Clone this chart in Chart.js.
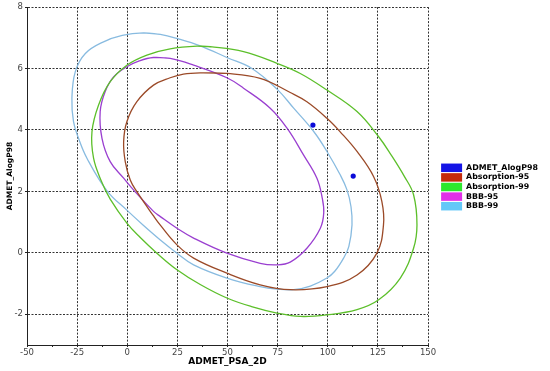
<!DOCTYPE html>
<html><head><meta charset="utf-8">
<script src="https://cdn.jsdelivr.net/npm/chart.js@4/dist/chart.umd.min.js"></script>
<style>html,body{margin:0;padding:0;background:#fff}#wrap{width:550px;height:371px}</style>
</head><body><div id="wrap"><canvas id="c" width="550" height="371"></canvas></div>
<script>
const seriesNames = ['ADMET_AlogP98', 'Absorption-95', 'Absorption-99', 'BBB-95', 'BBB-99'];
const xTicks = [-50, -25, 0, 25, 50, 75, 100, 125, 150];
const xMinorTicks = [-37.5, -12.5, 12.5, 37.5, 62.5, 87.5, 112.5, 137.5];
const yTicks = [-2, 0, 2, 4, 6, 8];

// compounds
const compoundPSA = [92.6, 112.7];
const compoundAlogP = [4.16, 2.5];

// Absorption-95 ellipse (points read around the curve)
const abs95X = [36.4, 49.7, 66.3, 81.3, 89.6, 99.6, 106.2, 114.6, 122.9, 127.0, 127.8, 124.5, 114.6, 99.6, 81.3, 66.3, 49.7, 33.1, 24.8, 16.5, 13.1, 4.8, 1.5, -1.0, -1.8, -0.2, 4.8, 13.1, 21.4, 28.0, 36.4, 49.7];
const abs95Y = [5.86, 5.84, 5.68, 5.22, 4.92, 4.38, 3.94, 3.30, 2.48, 1.67, 0.91, -0.01, -0.72, -1.10, -1.20, -1.04, -0.66, -0.17, 0.26, 0.90, 1.20, 1.99, 2.37, 2.97, 3.62, 4.27, 4.92, 5.46, 5.70, 5.82, 5.86, 5.84];

// Absorption-99 ellipse
const abs99X = [35.0, 41.4, 58.0, 74.7, 86.3, 99.6, 114.6, 125.4, 131.5, 138.2, 142.8, 144.5, 142.8, 136.2, 125.4, 114.6, 99.6, 86.3, 74.7, 62.0, 49.7, 36.4, 24.8, 14.8, 6.5, -0.2, -8.5, -13.0, -16.8, -17.6, -14.3, -8.5, -0.2, 9.8, 21.4, 35.0, 41.4];
const abs99Y = [6.73, 6.71, 6.55, 6.17, 5.84, 5.30, 4.60, 3.78, 3.20, 2.49, 1.89, 0.91, 0.15, -0.82, -1.53, -1.85, -2.02, -2.07, -1.96, -1.75, -1.47, -1.03, -0.55, -0.01, 0.50, 0.97, 1.75, 2.35, 3.08, 3.94, 4.81, 5.57, 6.11, 6.44, 6.64, 6.73, 6.71];

// BBB-95 ellipse
const bbb95X = [13.0, 21.4, 33.1, 49.7, 58.0, 71.3, 79.7, 87.9, 94.6, 97.2, 98.0, 96.3, 89.6, 81.3, 74.7, 66.3, 49.7, 33.1, 24.8, 16.5, 13.1, 3.1, -1.8, -8.5, -12.6, -13.5, -11.0, -6.8, -0.2, 6.0, 13.0, 21.4];
const bbb95Y = [6.36, 6.33, 6.11, 5.70, 5.36, 4.71, 4.06, 3.19, 2.43, 1.80, 1.30, 0.80, 0.15, -0.30, -0.39, -0.34, -0.01, 0.48, 0.80, 1.18, 1.35, 2.05, 2.43, 2.97, 3.73, 4.60, 5.25, 5.73, 6.06, 6.25, 6.36, 6.33];

// BBB-99 ellipse
const bbb99X = [8.0, 16.5, 24.8, 36.4, 49.7, 62.0, 74.7, 83.0, 93.0, 99.6, 106.2, 109.6, 111.6, 112.1, 110.5, 107.9, 103.5, 99.6, 91.3, 83.0, 74.7, 66.3, 49.7, 33.1, 24.8, 16.5, 8.0, -0.2, -10.1, -20.1, -24.3, -26.8, -27.6, -25.9, -20.9, -11.8, -2.5, 8.0, 16.5];
const bbb99Y = [7.16, 7.11, 6.98, 6.74, 6.36, 6.01, 5.33, 4.71, 3.95, 3.30, 2.54, 2.05, 1.50, 0.91, 0.20, -0.17, -0.60, -0.82, -1.08, -1.20, -1.18, -1.10, -0.82, -0.39, -0.01, 0.42, 0.90, 1.39, 2.02, 3.08, 3.73, 4.27, 5.03, 5.90, 6.49, 6.87, 7.08, 7.16, 7.11];

const lineColors = ['#0a0ad8', '#9b4a28', '#5cbf2a', '#9a3fd0', '#88bbe0'];
const legendColors = ['#1414e6', '#c42a0c', '#2de82d', '#e22ee8', '#63c8f8'];

const toPts = (xs, ys) => xs.map((x, i) => ({x: x, y: ys[i]}));

const ellipseDs = (i, xs, ys) => ({
  label: seriesNames[i], data: toPts(xs, ys), showLine: true, fill: false,
  borderColor: lineColors[i], backgroundColor: lineColors[i], borderWidth: 1.3,
  pointRadius: 0, pointHoverRadius: 0, tension: 0.4
});

const legendWidthPlugin = {
  id: 'legendWidth',
  afterInit(chart) {
    const lg = chart.legend;
    if (!lg) return;
    const origFit = lg.fit.bind(lg);
    lg.fit = function () { origFit(); this.width = 110; };
  }
};

new Chart(document.getElementById('c'), {
  type: 'scatter',
  plugins: [legendWidthPlugin],
  data: {
    datasets: [
      { label: seriesNames[0], data: toPts(compoundPSA, compoundAlogP), showLine: false,
        pointRadius: 2.6, pointBackgroundColor: lineColors[0], pointBorderColor: lineColors[0], pointBorderWidth: 0 },
      ellipseDs(1, abs95X, abs95Y),
      ellipseDs(2, abs99X, abs99Y),
      ellipseDs(3, bbb95X, bbb95Y),
      ellipseDs(4, bbb99X, bbb99Y)
    ]
  },
  options: {
    responsive: false, animation: false, devicePixelRatio: 1,
    layout: { padding: { top: 7, right: 0, bottom: 4, left: 0 } },
    plugins: {
      tooltip: { enabled: false },
      legend: {
        position: 'right', maxWidth: 200,
        labels: {
          boxWidth: 21, boxHeight: 8.5, padding: 1.1, color: '#000',
          font: { family: 'DejaVu Sans', size: 7.9, weight: 'bold' },
          generateLabels: (chart) => chart.data.datasets.map((d, i) => ({
            text: d.label, fillStyle: legendColors[i], strokeStyle: legendColors[i],
            lineWidth: 0, hidden: false, datasetIndex: i, fontColor: '#000'
          }))
        }
      }
    },
    scales: {
      x: {
        type: 'linear', min: -50, max: 150,
        afterBuildTicks: (s) => { s.ticks = xTicks.concat(xMinorTicks).sort((a, b) => a - b).map(v => ({value: v})); },
        afterFit: (s) => { s.height = 22; },
        ticks: {
          autoSkip: false, maxRotation: 0, padding: 1, color: '#444',
          font: { family: 'DejaVu Sans', size: 8.5 },
          callback: (v) => xTicks.includes(v) ? String(v) : ''
        },
        grid: {
          color: (c) => (c.tick && xTicks.includes(c.tick.value)) ? '#333' : 'rgba(0,0,0,0)',
          tickColor: '#222', tickLength: 2, lineWidth: 1
        },
        border: { display: true, color: '#222', width: 1, dash: [2, 1.5] },
        title: { display: true, text: 'ADMET_PSA_2D', color: '#000', padding: { top: 0, bottom: 0.5 },
          font: { family: 'DejaVu Sans', size: 9, weight: 'bold', lineHeight: 1 } }
      },
      y: {
        type: 'linear', min: -3, max: 8,
        afterBuildTicks: (s) => { s.ticks = yTicks.map(v => ({value: v})); },
        afterFit: (s) => { s.width = 27; },
        ticks: { padding: 2, color: '#444', font: { family: 'DejaVu Sans', size: 8.5 } },
        grid: { color: '#333', tickColor: '#222', tickLength: 2, lineWidth: 1 },
        border: { display: true, color: '#222', width: 1, dash: [2, 1.5] },
        title: { display: true, text: 'ADMET_AlogP98', color: '#000', padding: { top: 6, bottom: 0 },
          font: { family: 'DejaVu Sans', size: 7.5, weight: 'bold', lineHeight: 1 } }
      },
      pad: {
        type: 'linear', position: 'right', display: true,
        grid: { display: false }, border: { display: false }, ticks: { display: false },
        afterFit: (s) => { s.width = 12; }
      }
    }
  }
});
</script>
</body></html>
